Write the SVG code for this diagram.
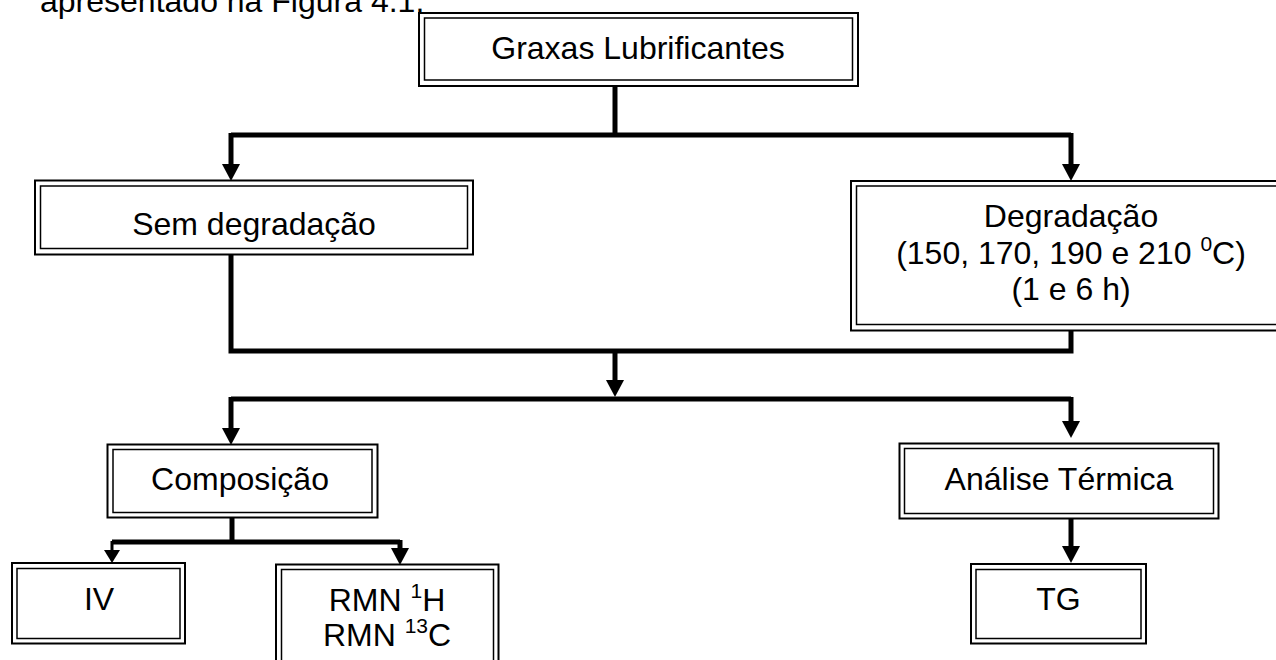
<svg xmlns="http://www.w3.org/2000/svg" width="1276" height="660" viewBox="0 0 1276 660">
<style>
.o{fill:#fff;stroke:#000;stroke-width:2}
.i{fill:none;stroke:#000;stroke-width:1.5}
.t{font-family:"Liberation Sans",Arial,sans-serif;font-size:32px;fill:#000;text-anchor:middle}
.c{fill:none;stroke:#000;stroke-width:5}
.a{fill:none;stroke:#000;stroke-width:5;marker-end:url(#ah)}
.a2{fill:none;stroke:#000;stroke-width:3;marker-end:url(#ah2)}
</style>
<defs>
<marker id="ah" markerUnits="userSpaceOnUse" viewBox="0 0 17 18" markerWidth="17" markerHeight="18" refX="1" refY="9" orient="auto">
<path d="M0 0 L17 9 L0 18 Z" fill="#000"/>
</marker>
<marker id="ah2" markerUnits="userSpaceOnUse" viewBox="0 0 13 16" markerWidth="13" markerHeight="16" refX="1" refY="8" orient="auto">
<path d="M0 0 L13 8 L0 16 Z" fill="#000"/>
</marker>
</defs>
<rect width="1276" height="660" fill="#fff"/>
<text class="t" x="40" y="12" style="text-anchor:start">apresentado na Figura 4.1.</text>

<g id="connectors">
<path class="c" d="M615 86 V135"/>
<path class="c" d="M231 135 H1071"/>
<path class="a" d="M231 133 V165"/>
<path class="a" d="M1071 133 V165"/>
<path class="c" d="M231 254 V351 H1071 V330"/>
<path class="a" d="M615 351 V381"/>
<path class="c" d="M231 399 H1071"/>
<path class="a" d="M231 397 V429"/>
<path class="a" d="M1071 397 V422"/>
<path class="c" d="M232 517 V542"/>
<path class="c" d="M112 542 H400"/>
<path class="a2" d="M112 541 V551"/>
<path class="a" d="M400 540 V549"/>
<path class="a" d="M1071 518 V547"/>
</g>

<g id="graxas">
<rect class="o" x="419" y="13" width="439" height="73"/>
<rect class="i" x="424.5" y="18" width="428" height="62"/>
<text class="t" x="638" y="59">Graxas Lubrificantes</text>
</g>

<g id="sem-degradacao">
<rect class="o" x="35" y="180.5" width="438" height="74"/>
<rect class="i" x="40.5" y="186" width="427" height="62.5"/>
<text class="t" x="254" y="235">Sem degradação</text>
</g>

<g id="degradacao">
<rect class="o" x="851" y="181" width="450" height="149.5"/>
<rect class="i" x="856.5" y="186" width="450" height="138.5"/>
<text class="t" x="1071" y="227">Degradação</text>
<text class="t" x="1071" y="264">(150, 170, 190 e 210 <tspan font-size="21" dy="-13">0</tspan><tspan dy="13">C)</tspan></text>
<text class="t" x="1071" y="300">(1 e 6 h)</text>
</g>

<g id="composicao">
<rect class="o" x="107.5" y="444.5" width="270" height="73"/>
<rect class="i" x="113" y="449.5" width="259" height="63"/>
<text class="t" x="240" y="490">Composição</text>
</g>

<g id="iv">
<rect class="o" x="12" y="563" width="173" height="80.5"/>
<rect class="i" x="17" y="568.5" width="163" height="70"/>
<text class="t" x="99" y="610">IV</text>
</g>

<g id="rmn">
<rect class="o" x="276" y="564.5" width="222.5" height="120"/>
<rect class="i" x="281.5" y="569.5" width="212" height="110"/>
<text class="t" x="387" y="611">RMN <tspan font-size="21" dy="-13">1</tspan><tspan dy="13">H</tspan></text>
<text class="t" x="387" y="646">RMN <tspan font-size="21" dy="-13">13</tspan><tspan dy="13">C</tspan></text>
</g>

<g id="analise-termica">
<rect class="o" x="899.5" y="443.5" width="319" height="75"/>
<rect class="i" x="904.5" y="448.5" width="309" height="65"/>
<text class="t" x="1059" y="490">Análise Térmica</text>
</g>

<g id="tg">
<rect class="o" x="971" y="564" width="175" height="79.5"/>
<rect class="i" x="976" y="569.5" width="165" height="69"/>
<text class="t" x="1058.5" y="610">TG</text>
</g>
</svg>
